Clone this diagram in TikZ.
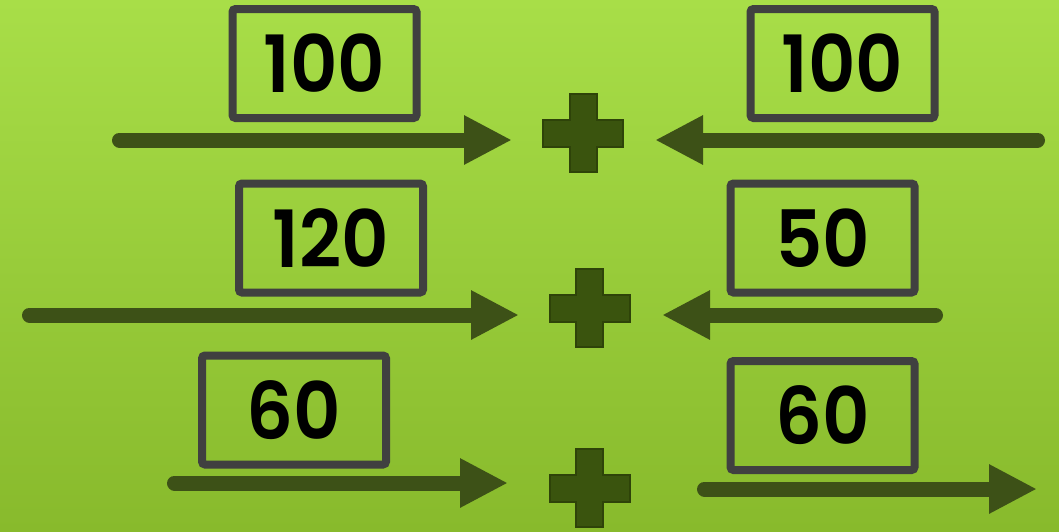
\documentclass[tikz,border=0pt]{standalone}
\usepackage{fontspec}
\setmainfont{Poppins}[BoldFont={* SemiBold}]
\usetikzlibrary{arrows.meta}
\definecolor{bgtop}{RGB}{168,222,72}
\definecolor{bgbot}{RGB}{136,186,44}
\definecolor{arrowcol}{RGB}{61,81,23}
\definecolor{boxcol}{RGB}{64,64,64}
\definecolor{plusfill}{RGB}{58,84,14}
\definecolor{plusedge}{RGB}{46,67,9}
\newcommand{\numtext}[1]{\raisebox{-3.5pt}{\scalebox{0.93}[1]{#1}}}
\tikzset{
  numbox/.style={draw=boxcol, line width=8pt, rounded corners=3pt,
    minimum width=184pt, minimum height=109pt, inner sep=0pt,
    font=\fontsize{79}{80}\selectfont\bfseries, text=black},
  flow/.style={draw=arrowcol, line width=15pt, line cap=round,
    -{Triangle[length=48pt,width=46pt]}},
  plussign/.pic={
    \path[fill=plusfill, draw=plusedge, line width=2pt]
      (-13.5,-39) -- (13.5,-39) -- (13.5,-13.5) -- (40,-13.5) -- (40,13.5)
      -- (13.5,13.5) -- (13.5,39) -- (-13.5,39) -- (-13.5,13.5) -- (-40,13.5)
      -- (-40,-13.5) -- (-13.5,-13.5) -- cycle;
  }
}
\begin{document}
\begin{tikzpicture}[x=1pt,y=-1pt]
\useasboundingbox (0,0) rectangle (1059,531);
\fill[top color=bgtop, bottom color=bgbot] (0,0) rectangle (1059,531);

% boxes
\node[numbox] (b1) at (324.5,63.5) {\numtext{100}};
\node[numbox] (b2) at (842.5,63.5) {\numtext{100}};
\node[numbox] (b3) at (331,238) {\numtext{120}};
\node[numbox] (b4) at (822.5,238) {\numtext{50}};
\node[numbox] (b5) at (294,410) {\numtext{60}};
\node[numbox] (b6) at (822.5,415.5) {\numtext{60}};

% plus signs
\pic (p1) at (583,133) {plussign};
\pic (p2) at (589.5,308) {plussign};
\pic (p3) at (589.5,488) {plussign};

% arrow end points
\coordinate (a1s) at (119.5,140);
\coordinate (a1e) at (512,140);
\coordinate (a2s) at (1037.5,140);
\coordinate (a2e) at (655,140);
\coordinate (a3s) at (29.5,315);
\coordinate (a3e) at (519,315);
\coordinate (a4s) at (935.5,315);
\coordinate (a4e) at (662,315);
\coordinate (a5s) at (174.5,483);
\coordinate (a5e) at (508,483);
\coordinate (a6s) at (704.5,489);
\coordinate (a6e) at (1037,489);

\draw[flow] (a1s) -- (a1e);
\draw[flow] (a2s) -- (a2e);
\draw[flow] (a3s) -- (a3e);
\draw[flow] (a4s) -- (a4e);
\draw[flow] (a5s) -- (a5e);
\draw[flow] (a6s) -- (a6e);
\end{tikzpicture}
\end{document}
